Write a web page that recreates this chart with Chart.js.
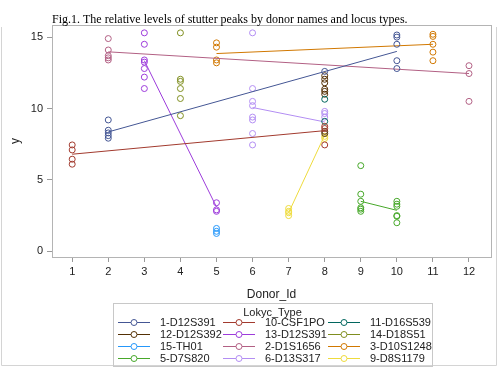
<!DOCTYPE html>
<html>
<head>
<meta charset="utf-8">
<style>
  html, body { margin: 0; padding: 0; background: #fff; }
  #chart { display: block; }
</style>
<script src="https://cdn.jsdelivr.net/npm/chart.js@4"></script>
</head>
<body>
<canvas id="chart" width="500" height="375"></canvas>
<script>
const titleText = "Fig.1. The relative levels of stutter peaks by donor names and locus types.";
const donorTicks = [1, 2, 3, 4, 5, 6, 7, 8, 9, 10, 11, 12];
const yTicks = [0, 5, 10, 15];

// group names in legend order
const groups = [
  "1-D12S391", "10-CSF1PO", "11-D16S539",
  "12-D12S392", "13-D12S391", "14-D18S51",
  "15-TH01", "2-D1S1656", "3-D10S1248",
  "5-D7S820", "6-D13S317", "9-D8S1179",
];
const groupColors = [
  "#445694", "#A23A2E", "#01665E",
  "#543005", "#9D3CDB", "#7F8E1F",
  "#2597FA", "#B26084", "#D17800",
  "#47A82A", "#B38EF3", "#EEDB3C",
];

// observations [Donor_Id, y]
const pts_D12S391 = [[2, 9.2], [2, 8.48], [2, 8.29], [2, 8.1], [2, 7.92], [8, 12.6], [10, 15.15], [10, 15.0], [10, 14.5], [10, 13.35], [10, 12.8]];
const pts_CSF1PO = [[1, 7.45], [1, 7.1], [1, 6.45], [1, 6.1], [8, 8.75], [8, 8.6], [8, 7.45]];
const pts_D16S539 = [[8, 10.65], [8, 9.1]];
const pts_D12S392 = [[8, 12.3], [8, 12.05], [8, 11.8], [8, 11.35], [8, 11.2], [8, 11.0], [8, 8.4], [8, 8.25]];
const pts_D12S391b = [[3, 15.3], [3, 14.5], [3, 13.4], [3, 13.25], [3, 12.8], [3, 12.2], [3, 11.4], [5, 3.4], [5, 2.9], [5, 2.8]];
const pts_D18S51 = [[4, 15.3], [4, 12.05], [4, 11.9], [4, 11.4], [4, 10.7], [4, 9.5]];
const pts_TH01 = [[5, 1.6], [5, 1.4], [5, 1.25]];
const pts_D1S1656 = [[2, 14.9], [2, 14.1], [2, 13.7], [2, 13.55], [2, 13.4], [12, 13.0], [12, 12.45], [12, 10.5]];
const pts_D10S1248 = [[5, 14.6], [5, 14.3], [5, 13.4], [5, 13.2], [11, 15.2], [11, 15.05], [11, 14.5], [11, 13.95], [11, 13.35]];
const pts_D7S820 = [[9, 6.0], [9, 4.0], [9, 3.5], [9, 3.05], [9, 2.95], [9, 2.8], [10, 3.5], [10, 3.3], [10, 3.15], [10, 2.5], [10, 2.45], [10, 2.0]];
const pts_D13S317 = [[6, 15.3], [6, 11.4], [6, 10.5], [6, 10.2], [6, 9.4], [6, 9.2], [6, 8.25], [6, 7.45], [8, 9.8], [8, 9.65], [8, 9.4]];
const pts_D8S1179 = [[7, 3.0], [7, 2.8], [7, 2.7], [7, 2.5], [8, 8.05], [8, 7.9]];

// fitted line ends [Donor_Id, y]; null = no fit drawn
const fit_D12S391 = [[2, 8.36], [10, 14.0]];
const fit_CSF1PO = [[1, 6.8], [8, 8.45]];
const fit_D12S391b = [[3, 13.35], [5, 3.1]];
const fit_D1S1656 = [[2, 13.97], [12, 12.45]];
const fit_D10S1248 = [[5, 13.85], [11, 14.5]];
const fit_D7S820 = [[9, 3.5], [10, 2.87]];
const fit_D13S317 = [[6, 10.07], [8, 9.06]];
const fit_D8S1179 = [[7, 2.7], [8, 8.13]];

const groupPoints = [
  pts_D12S391, pts_CSF1PO, pts_D16S539,
  pts_D12S392, pts_D12S391b, pts_D18S51,
  pts_TH01, pts_D1S1656, pts_D10S1248,
  pts_D7S820, pts_D13S317, pts_D8S1179,
];
const groupFits = [
  fit_D12S391, fit_CSF1PO, null,
  null, fit_D12S391b, null,
  null, fit_D1S1656, fit_D10S1248,
  fit_D7S820, fit_D13S317, fit_D8S1179,
];

const toXY = (arr) => arr.map(([x, y]) => ({ x, y }));

const datasets = [];
groups.forEach((name, i) => {
  const c = groupColors[i];
  const fit = groupFits[i];
  if (fit) {
    datasets.push({
      label: name + " fit", isFit: true, data: toXY(fit), showLine: true,
      borderColor: c, borderWidth: 1, pointRadius: 0, pointHoverRadius: 0, fill: false,
    });
  }
  datasets.push({
    label: name, data: toXY(groupPoints[i]), showLine: false,
    borderColor: c, backgroundColor: "rgba(0,0,0,0)",
    pointRadius: 3, pointBorderWidth: 1, pointStyle: "circle",
  });
});

const sans = "Arial, 'Liberation Sans', sans-serif";
const axisGrey = "#9a9a9a";

// frame, title and the group legend box
const decor = {
  id: "decor",
  afterDraw(chart) {
    const { ctx, chartArea: a } = chart;
    ctx.save();
    // outer border
    ctx.strokeStyle = "#d4d4d4";
    ctx.lineWidth = 1;
    ctx.beginPath();
    ctx.moveTo(1.5, 27);
    ctx.lineTo(1.5, 365.5);
    ctx.lineTo(496.5, 365.5);
    ctx.lineTo(496.5, 27);
    ctx.stroke();
    // plot frame
    ctx.strokeStyle = "#b4b4b4";
    ctx.strokeRect(Math.round(a.left) + 0.5, Math.round(a.top) + 0.5, Math.round(a.right - a.left), Math.round(a.bottom - a.top));
    // title
    ctx.fillStyle = "#000";
    ctx.font = "12px 'Liberation Serif', 'Times New Roman', serif";
    ctx.textAlign = "left";
    ctx.textBaseline = "alphabetic";
    ctx.fillText(titleText, a.left, 23);
    // legend
    const bx = 113, by = 303, bw = 319, bh = 63;
    ctx.strokeStyle = "#c8c8c8";
    ctx.strokeRect(bx + 0.5, by + 0.5, bw, bh);
    ctx.font = "11px " + sans;
    ctx.fillStyle = "#222";
    ctx.textAlign = "center";
    ctx.textBaseline = "middle";
    ctx.fillText("Lokyc_Type", bx + bw / 2, 313);
    const colX = [118, 223, 328];
    const rowY = [322, 334, 346, 358];
    const entries = chart.data.datasets.filter((d) => !d.isFit);
    entries.forEach((d, k) => {
      const lx = colX[k % 3], ly = rowY[Math.floor(k / 3)];
      ctx.strokeStyle = d.borderColor;
      ctx.lineWidth = 1;
      ctx.beginPath();
      ctx.moveTo(lx, ly + 0.5);
      ctx.lineTo(lx + 32, ly + 0.5);
      ctx.stroke();
      ctx.fillStyle = "#fff";
      ctx.beginPath();
      ctx.arc(lx + 16, ly + 0.5, 3, 0, Math.PI * 2);
      ctx.fill();
      ctx.stroke();
      ctx.fillStyle = "#222";
      ctx.textAlign = "left";
      ctx.fillText(d.label, lx + 42, ly + 1);
    });
    ctx.restore();
  },
};

new Chart(document.getElementById("chart"), {
  type: "scatter",
  data: { datasets },
  options: {
    responsive: false,
    devicePixelRatio: 1,
    animation: false,
    layout: { padding: { top: 25, right: 9, bottom: 72, left: 0 } },
    plugins: { legend: { display: false }, title: { display: false }, tooltip: { enabled: false } },
    scales: {
      x: {
        type: "linear", min: 0.44, max: 12.61,
        afterBuildTicks: (s) => { s.ticks = donorTicks.map((v) => ({ value: v })); },
        afterFit: (s) => { s.height = 46; },
        grid: { drawOnChartArea: false, drawTicks: true, tickLength: 5, color: axisGrey },
        border: { color: axisGrey },
        ticks: { color: "#222", font: { family: sans, size: 11 }, padding: 3, maxRotation: 0 },
        title: { display: true, text: "Donor_Id", color: "#222", font: { family: sans, size: 12 }, padding: { top: 0, bottom: 1 } },
      },
      y: {
        type: "linear", min: -0.4, max: 15.85,
        afterBuildTicks: (s) => { s.ticks = yTicks.map((v) => ({ value: v })); },
        afterFit: (s) => { s.width = 52; },
        grid: { drawOnChartArea: false, drawTicks: true, tickLength: 5, color: axisGrey },
        border: { color: axisGrey },
        ticks: { color: "#222", font: { family: sans, size: 11 }, padding: 4 },
        title: { display: true, text: "y", color: "#222", font: { family: sans, size: 12 }, padding: { top: 8, bottom: 0 } },
      },
    },
  },
  plugins: [decor],
});
</script>
</body>
</html>
